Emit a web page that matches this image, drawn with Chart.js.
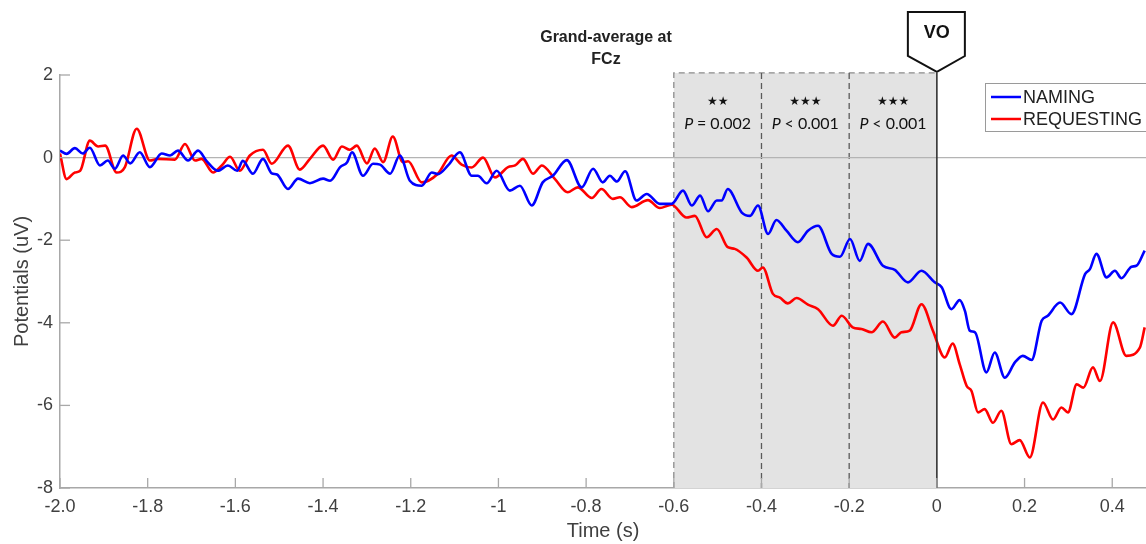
<!DOCTYPE html>
<html>
<head>
<meta charset="utf-8">
<script src="https://cdn.jsdelivr.net/npm/chart.js@4.4.1/dist/chart.umd.min.js"></script>
<style>
  html, body { margin: 0; padding: 0; background: #fff; }
</style>
</head>
<body>
<canvas id="graficoERP" width="1146" height="544"></canvas>
<script>
// time (s) and potential (uV)
const namingT = [-2.000,-1.985,-1.966,-1.948,-1.932,-1.909,-1.891,-1.875,-1.856,-1.840,-1.818,-1.795,-1.768,-1.749,-1.731,-1.708,-1.685,-1.665,-1.640,-1.617,-1.596,-1.583,-1.560,-1.537,-1.517,-1.505,-1.480,-1.457,-1.430,-1.400,-1.384,-1.361,-1.345,-1.334,-1.309,-1.286,-1.270,-1.247,-1.225,-1.202,-1.175,-1.152,-1.138,-1.115,-1.088,-1.061,-1.047,-1.027,-1.004,-0.974,-0.951,-0.924,-0.899,-0.876,-0.844,-0.810,-0.784,-0.762,-0.746,-0.730,-0.711,-0.685,-0.662,-0.632,-0.605,-0.579,-0.559,-0.540,-0.522,-0.502,-0.491,-0.477,-0.445,-0.426,-0.408,-0.385,-0.366,-0.343,-0.317,-0.294,-0.271,-0.240,-0.221,-0.198,-0.176,-0.157,-0.123,-0.096,-0.066,-0.035,-0.005,0.011,0.033,0.052,0.064,0.075,0.087,0.113,0.132,0.155,0.178,0.196,0.216,0.239,0.253,0.281,0.307,0.338,0.349,0.364,0.387,0.406,0.421,0.444,0.455,0.474];
const namingV = [0.17,0.09,0.23,0.10,0.24,-0.19,-0.07,-0.27,0.05,-0.14,0.13,-0.23,0.10,0.05,0.17,-0.07,0.17,-0.09,-0.32,-0.19,-0.32,-0.08,-0.39,-0.03,-0.38,-0.41,-0.76,-0.51,-0.62,-0.51,-0.56,-0.23,-0.11,0.13,-0.44,-0.15,-0.17,-0.39,0.05,-0.56,-0.68,-0.36,-0.40,-0.19,0.13,-0.44,-0.44,-0.62,-0.32,-0.80,-0.68,-1.16,-0.60,-0.44,-0.06,-0.72,-0.27,-0.60,-0.44,-0.58,-0.33,-1.04,-0.88,-1.12,-1.12,-0.80,-1.16,-0.92,-1.30,-1.04,-1.04,-0.76,-1.33,-1.41,-1.16,-1.85,-1.51,-1.77,-2.05,-1.77,-1.65,-2.33,-2.40,-1.97,-2.50,-2.09,-2.62,-2.72,-3.02,-2.74,-3.02,-3.14,-3.67,-3.45,-3.71,-4.19,-4.23,-5.20,-4.72,-5.33,-4.96,-4.80,-4.90,-3.95,-3.83,-3.51,-3.79,-2.82,-2.70,-2.33,-2.90,-2.74,-2.92,-2.64,-2.62,-2.25];

const requestingT = [-2.000,-1.985,-1.966,-1.954,-1.932,-1.913,-1.897,-1.871,-1.852,-1.825,-1.795,-1.777,-1.738,-1.715,-1.692,-1.677,-1.651,-1.631,-1.612,-1.590,-1.567,-1.537,-1.517,-1.480,-1.453,-1.430,-1.400,-1.377,-1.357,-1.339,-1.323,-1.300,-1.282,-1.263,-1.241,-1.218,-1.206,-1.175,-1.138,-1.107,-1.084,-1.061,-1.035,-1.008,-0.978,-0.962,-0.944,-0.921,-0.901,-0.871,-0.842,-0.819,-0.787,-0.765,-0.739,-0.723,-0.696,-0.659,-0.632,-0.605,-0.571,-0.552,-0.525,-0.502,-0.477,-0.461,-0.434,-0.408,-0.397,-0.374,-0.358,-0.340,-0.320,-0.294,-0.271,-0.237,-0.217,-0.192,-0.172,-0.149,-0.123,-0.096,-0.081,-0.062,-0.035,-0.009,0.018,0.036,0.052,0.068,0.079,0.094,0.109,0.128,0.147,0.170,0.189,0.212,0.242,0.265,0.284,0.299,0.319,0.334,0.356,0.372,0.402,0.432,0.463,0.474];
const requestingV = [0.10,-0.52,-0.36,-0.32,0.41,0.27,0.29,-0.36,-0.23,0.70,-0.07,-0.03,-0.05,0.33,-0.07,-0.03,-0.36,-0.19,0.02,-0.32,0.05,0.19,-0.15,0.29,-0.29,-0.03,0.29,-0.05,0.27,0.19,0.29,-0.14,0.22,-0.11,0.51,-0.11,-0.09,-0.60,-0.39,0.05,-0.17,-0.24,0.00,-0.48,-0.23,-0.19,-0.03,-0.39,-0.19,-0.52,-0.84,-0.72,-0.98,-0.76,-1.00,-0.96,-1.20,-1.03,-1.22,-1.14,-1.45,-1.41,-1.93,-1.73,-2.17,-2.21,-2.42,-2.74,-2.66,-3.30,-3.39,-3.53,-3.40,-3.56,-3.67,-4.07,-3.83,-4.11,-4.15,-4.23,-3.97,-4.36,-4.23,-4.19,-3.55,-4.19,-4.84,-4.50,-5.00,-5.53,-5.65,-6.17,-6.09,-6.42,-6.13,-6.94,-6.84,-7.26,-5.93,-6.34,-6.05,-6.17,-5.49,-5.57,-5.08,-5.41,-3.99,-4.80,-4.60,-4.11];

const xTickValues = [-2.0, -1.8, -1.6, -1.4, -1.2, -1.0, -0.8, -0.6, -0.4, -0.2, 0, 0.2, 0.4];
const xTickLabels = ['-2.0', '-1.8', '-1.6', '-1.4', '-1.2', '-1', '-0.8', '-0.6', '-0.4', '-0.2', '0', '0.2', '0.4'];
const yTickValues = [2, 0, -2, -4, -6, -8];

// significance windows
const winEdges = [-0.6, -0.4, -0.2, 0];
const winStars = ['★★', '★★★', '★★★'];
const winP = ['= 0.002', '< 0.001', '< 0.001'];

const axisGray = '#a8a8a8';
const textGray = '#404040';

function toPoints(t, v) {
    return t.map((x, i) => ({ x: x, y: v[i] }));
}

const erpExtras = {
    id: 'erpExtras',
    beforeDatasetsDraw(chart) {
        const ctx = chart.ctx;
        const xs = chart.scales.x, ys = chart.scales.y;
        const area = chart.chartArea;
        const top = ys.getPixelForValue(2.05);
        const bottom = area.bottom;
        const x0 = xs.getPixelForValue(winEdges[0]);
        const x3 = xs.getPixelForValue(winEdges[winEdges.length - 1]);

        ctx.save();
        ctx.fillStyle = '#e3e3e3';
        ctx.fillRect(x0, top, x3 - x0, bottom - top);

        // dashed outline
        ctx.setLineDash([6, 4]);
        ctx.lineWidth = 1.3;
        ctx.strokeStyle = '#8c8c8c';
        ctx.beginPath();
        ctx.moveTo(x0, bottom);
        ctx.lineTo(x0, top);
        ctx.lineTo(x3, top);
        ctx.stroke();
        ctx.strokeStyle = '#5a5a5a';
        for (let i = 1; i < winEdges.length - 1; i++) {
            const xp = xs.getPixelForValue(winEdges[i]);
            ctx.beginPath();
            ctx.moveTo(xp, top);
            ctx.lineTo(xp, bottom);
            ctx.stroke();
        }
        ctx.setLineDash([]);

        // zero line
        const y0 = ys.getPixelForValue(0);
        ctx.strokeStyle = '#b4b4b4';
        ctx.lineWidth = 1.2;
        ctx.beginPath();
        ctx.moveTo(area.left, y0);
        ctx.lineTo(area.right, y0);
        ctx.stroke();
        ctx.restore();
    },
    afterDatasetsDraw(chart) {
        const ctx = chart.ctx;
        const xs = chart.scales.x, ys = chart.scales.y;
        const area = chart.chartArea;
        const top = ys.getPixelForValue(2.05);

        ctx.save();
        // onset line
        const xv = xs.getPixelForValue(0);
        ctx.strokeStyle = '#333';
        ctx.lineWidth = 1.6;
        ctx.beginPath();
        ctx.moveTo(xv, top);
        ctx.lineTo(xv, area.bottom);
        ctx.stroke();

        // VO marker
        ctx.fillStyle = '#fff';
        ctx.strokeStyle = '#111';
        ctx.lineWidth = 2;
        ctx.beginPath();
        ctx.moveTo(xv - 29, 12);
        ctx.lineTo(xv + 28, 12);
        ctx.lineTo(xv + 28, 56);
        ctx.lineTo(xv, top - 1);
        ctx.lineTo(xv - 29, 56);
        ctx.closePath();
        ctx.fill();
        ctx.stroke();
        ctx.fillStyle = '#111';
        ctx.font = 'bold 18px "Liberation Sans", Arial, sans-serif';
        ctx.textAlign = 'center';
        ctx.textBaseline = 'middle';
        ctx.fillText('VO', xv, 33);

        // window labels
        for (let i = 0; i < winStars.length; i++) {
            const cx = (xs.getPixelForValue(winEdges[i]) + xs.getPixelForValue(winEdges[i + 1])) / 2;
            ctx.fillStyle = '#111';
            ctx.font = '12px "DejaVu Sans", sans-serif';
            ctx.textAlign = 'center';
            ctx.fillText(winStars[i], cx, 102);

            ctx.font = 'italic 16px Lato, sans-serif';
            const wP = ctx.measureText('P ').width;
            ctx.font = '16px Lato, sans-serif';
            const wRest = ctx.measureText(winP[i]).width;
            const startX = cx - (wP + wRest) / 2;
            ctx.textAlign = 'left';
            ctx.font = 'italic 16px Lato, sans-serif';
            ctx.fillText('P', startX, 124);
            ctx.font = '16px Lato, sans-serif';
            ctx.fillText(winP[i], startX + wP, 124);
        }

        // inward tick marks
        ctx.strokeStyle = axisGray;
        ctx.lineWidth = 1.3;
        xTickValues.forEach(v => {
            const xp = xs.getPixelForValue(v);
            ctx.beginPath();
            ctx.moveTo(xp, area.bottom);
            ctx.lineTo(xp, area.bottom - 10);
            ctx.stroke();
        });
        yTickValues.forEach(v => {
            const yp = ys.getPixelForValue(v);
            ctx.beginPath();
            ctx.moveTo(area.left, yp);
            ctx.lineTo(area.left + 10, yp);
            ctx.stroke();
        });

        // title
        ctx.fillStyle = '#222';
        ctx.font = 'bold 16px "Liberation Sans", Arial, sans-serif';
        ctx.textAlign = 'center';
        const tx = (area.left + area.right) / 2 + 3;
        ctx.fillText('Grand-average at', tx, 38);
        ctx.fillText('FCz', tx, 60);

        // legend
        ctx.fillStyle = '#fff';
        ctx.fillRect(985, 83, 170, 48);
        ctx.strokeStyle = '#9a9a9a';
        ctx.lineWidth = 1;
        ctx.strokeRect(985.5, 83.5, 170, 48);
        chart.data.datasets.forEach((ds, i) => {
            const ly = 97 + i * 22;
            ctx.strokeStyle = ds.borderColor;
            ctx.lineWidth = 2.5;
            ctx.beginPath();
            ctx.moveTo(991, ly);
            ctx.lineTo(1021, ly);
            ctx.stroke();
            ctx.fillStyle = '#222';
            ctx.font = '18px "Liberation Sans", Arial, sans-serif';
            ctx.textAlign = 'left';
            ctx.fillText(ds.label, 1023, ly + 1);
        });
        ctx.restore();
    }
};

document.addEventListener('DOMContentLoaded', function() {
    const ctx = document.getElementById('graficoERP').getContext('2d');

    const dados = {
        datasets: [{
            label: 'NAMING',
            data: toPoints(namingT, namingV),
            borderColor: '#0000ff',
            borderWidth: 2.6,
            pointRadius: 0,
            cubicInterpolationMode: 'monotone'
        }, {
            label: 'REQUESTING',
            data: toPoints(requestingT, requestingV),
            borderColor: '#ff0000',
            borderWidth: 2.6,
            pointRadius: 0,
            cubicInterpolationMode: 'monotone'
        }]
    };

    const config = {
        type: 'line',
        data: dados,
        options: {
            responsive: false,
            animation: false,
            layout: { padding: { top: 75, right: 0, bottom: 0, left: 0 } },
            plugins: {
                legend: { display: false },
                tooltip: { enabled: false }
            },
            scales: {
                x: {
                    type: 'linear',
                    min: -2.0,
                    max: 0.477,
                    afterBuildTicks: s => { s.ticks = xTickValues.map(v => ({ value: v })); },
                    afterFit: s => { s.height = 56; },
                    grid: { display: false, drawTicks: false },
                    border: { display: true, color: axisGray, width: 1.5 },
                    ticks: {
                        padding: 8,
                        maxRotation: 0,
                        autoSkip: false,
                        color: textGray,
                        font: { family: '"Liberation Sans", Arial, sans-serif', size: 18 },
                        callback: v => {
                            const i = xTickValues.findIndex(t => Math.abs(t - v) < 1e-6);
                            return i >= 0 ? xTickLabels[i] : '';
                        }
                    },
                    title: {
                        display: true,
                        text: 'Time (s)',
                        color: textGray,
                        padding: { top: 0, bottom: 1 },
                        font: { family: '"Liberation Sans", Arial, sans-serif', size: 20 }
                    }
                },
                y: {
                    min: -8,
                    max: 2,
                    afterBuildTicks: s => { s.ticks = yTickValues.map(v => ({ value: v })); },
                    afterFit: s => { s.width = 60; },
                    grid: { display: false, drawTicks: false },
                    border: { display: true, color: axisGray, width: 1.5 },
                    ticks: {
                        padding: 7,
                        color: textGray,
                        font: { family: '"Liberation Sans", Arial, sans-serif', size: 18 }
                    },
                    title: {
                        display: true,
                        text: 'Potentials (uV)',
                        color: textGray,
                        padding: { top: 10, bottom: 0 },
                        font: { family: '"Liberation Sans", Arial, sans-serif', size: 20 }
                    }
                }
            }
        },
        plugins: [erpExtras]
    };

    new Chart(ctx, config);
});
</script>
</body>
</html>
